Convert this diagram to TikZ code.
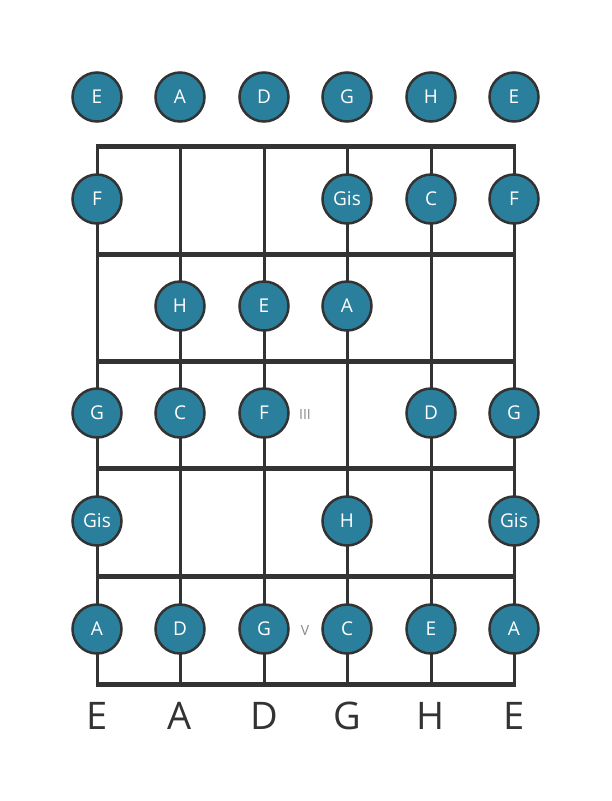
\documentclass[tikz,border=0pt]{standalone}
\usepackage{fontspec}
\setmainfont{Open Sans}
\definecolor{dotfill}{HTML}{2A7F9C}
\definecolor{ink}{HTML}{333333}
\definecolor{mark}{HTML}{888888}
\begin{document}
\begin{tikzpicture}[x=1pt,y=-1pt,
  note/.style={circle,draw=ink,line width=2.5pt,fill=dotfill,minimum size=49pt,inner sep=0pt,text=white,font=\fontsize{19}{19}\selectfont},
  fret/.style={draw=ink,line width=5pt},
  gstring/.style={draw=ink,line width=3pt},
  strlabel/.style={text=ink,font=\fontsize{38}{38}\selectfont},
  posmark/.style={text=mark,font=\fontsize{14}{14}\selectfont}]
\useasboundingbox[fill=white] (0,0) rectangle (611,801);
% string positions
\foreach \i/\x in {1/97,2/180,3/264,4/347,5/431,6/514}{
  \coordinate (t\i) at (\x,146);
  \coordinate (b\i) at (\x,684);
}
% strings
\foreach \i in {1,...,6}{ \draw[gstring] (t\i) -- (b\i); }
% frets
\foreach \j/\y in {0/146,1/254,2/361,3/468,4/576,5/684}{
  \coordinate (fl\j) at (95.5,\y);
  \coordinate (fr\j) at (515.5,\y);
  \draw[fret] (fl\j) -- (fr\j);
}
% open strings
\node[note] (o1) at (97,97) {E};
\node[note] (o2) at (180,97) {A};
\node[note] (o3) at (264,97) {D};
\node[note] (o4) at (347,97) {G};
\node[note] (o5) at (431,97) {H};
\node[note] (o6) at (514,97) {E};
% fret 1
\node[note] (n11) at (97,199) {F};
\node[note] (n14) at (347,199) {Gis};
\node[note] (n15) at (431,199) {C};
\node[note] (n16) at (514,199) {F};
% fret 2
\node[note] (n22) at (180,306) {H};
\node[note] (n23) at (264,306) {E};
\node[note] (n24) at (347,306) {A};
% fret 3
\node[note] (n31) at (97,413) {G};
\node[note] (n32) at (180,413) {C};
\node[note] (n33) at (264,413) {F};
\node[note] (n35) at (431,413) {D};
\node[note] (n36) at (514,413) {G};
\node[posmark] (m3) at (305,414) {III};
% fret 4
\node[note] (n41) at (97,521) {Gis};
\node[note] (n44) at (347,521) {H};
\node[note] (n46) at (514,521) {Gis};
% fret 5
\node[note] (n51) at (97,629) {A};
\node[note] (n52) at (180,629) {D};
\node[note] (n53) at (264,629) {G};
\node[note] (n54) at (347,629) {C};
\node[note] (n55) at (431,629) {E};
\node[note] (n56) at (514,629) {A};
\node[posmark] (m5) at (305,630) {V};
% bottom labels
\node[strlabel] (l1) at (97,716) {E};
\node[strlabel] (l2) at (180,716) {A};
\node[strlabel] (l3) at (264,716) {D};
\node[strlabel] (l4) at (347,716) {G};
\node[strlabel] (l5) at (431,716) {H};
\node[strlabel] (l6) at (514,716) {E};
\end{tikzpicture}
\end{document}
